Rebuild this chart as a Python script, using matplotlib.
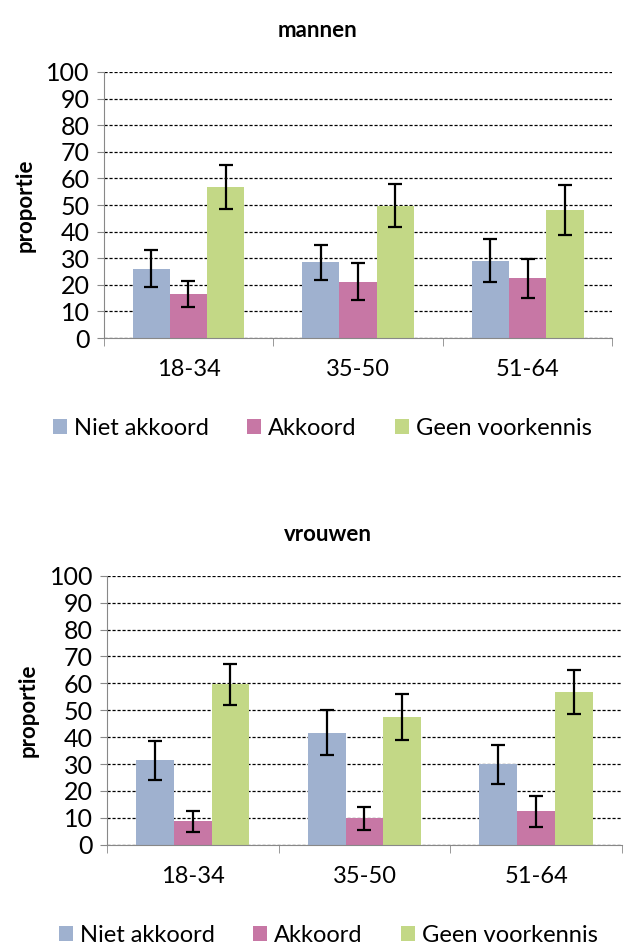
import matplotlib.pyplot as plt
import numpy as np

plt.rcParams['font.family'] = ['Lato', 'DejaVu Sans']

groups = ["18-34", "35-50", "51-64"]
series = ["Niet akkoord", "Akkoord", "Geen voorkennis"]
colors = ["#9FB1CF", "#C777A5", "#C3D886"]

# mannen
men_niet = [26.1, 28.5, 29.1]
men_akk = [16.4, 21.2, 22.5]
men_geen = [56.8, 49.8, 48.3]
men_niet_err = [7.0, 6.6, 8.1]
men_akk_err = [4.9, 6.9, 7.4]
men_geen_err = [8.2, 8.2, 9.4]

# vrouwen
wom_niet = [31.4, 41.7, 29.9]
wom_akk = [8.8, 9.8, 12.5]
wom_geen = [59.6, 47.6, 56.8]
wom_niet_err = [7.3, 8.5, 7.3]
wom_akk_err = [3.9, 4.2, 5.8]
wom_geen_err = [7.6, 8.5, 8.3]

fig = plt.figure(figsize=(6.36, 9.47), dpi=100)


def draw(ax, vals, errs, title, title_x):
    x = np.arange(len(groups))
    w = 0.22
    for i, (v, e) in enumerate(zip(vals, errs)):
        ax.bar(x + (i - 1) * w, v, w, color=colors[i], label=series[i], zorder=3,
               yerr=e, capsize=5, error_kw=dict(ecolor="black", elinewidth=1.6, capthick=1.6, zorder=4))
    ax.set_xlim(-0.5, 2.5)
    ax.set_ylim(0, 100)
    ax.set_yticks(range(0, 101, 10))
    ax.set_xticks(x)
    ax.set_xticklabels(groups, fontsize=17)
    ax.set_xticks([-0.5, 0.5, 1.5, 2.5], minor=True)
    ax.tick_params(axis="x", which="major", length=0, pad=15)
    ax.tick_params(axis="x", which="minor", length=6, color="#888888", direction="out")
    ax.tick_params(axis="y", labelsize=18, length=5, color="#888888", direction="out", pad=5)
    ax.yaxis.grid(True, linestyle=(0, (2.5, 1.5)), color="black", linewidth=0.9, zorder=0)
    for s in ["top", "right"]:
        ax.spines[s].set_visible(False)
    for s in ["left", "bottom"]:
        ax.spines[s].set_color("#888888")
        ax.spines[s].set_zorder(5)
    ax.set_ylabel("proportie", fontsize=16, fontweight="bold", labelpad=8)
    ax.set_title(title, fontsize=16, fontweight="bold", pad=25, x=title_x)
    ax.legend(loc="upper center", bbox_to_anchor=(0.43, -0.22), ncol=3, frameon=False,
              fontsize=17, handlelength=0.6, handleheight=0.6, handletextpad=0.3, columnspacing=1.6)


ax1 = fig.add_axes([0.163, 0.643, 0.80, 0.281])
draw(ax1, [men_niet, men_akk, men_geen], [men_niet_err, men_akk_err, men_geen_err], "mannen", 0.42)

ax2 = fig.add_axes([0.168, 0.108, 0.81, 0.284])
draw(ax2, [wom_niet, wom_akk, wom_geen], [wom_niet_err, wom_akk_err, wom_geen_err], "vrouwen", 0.43)

fig.savefig("out.png", dpi=100)
